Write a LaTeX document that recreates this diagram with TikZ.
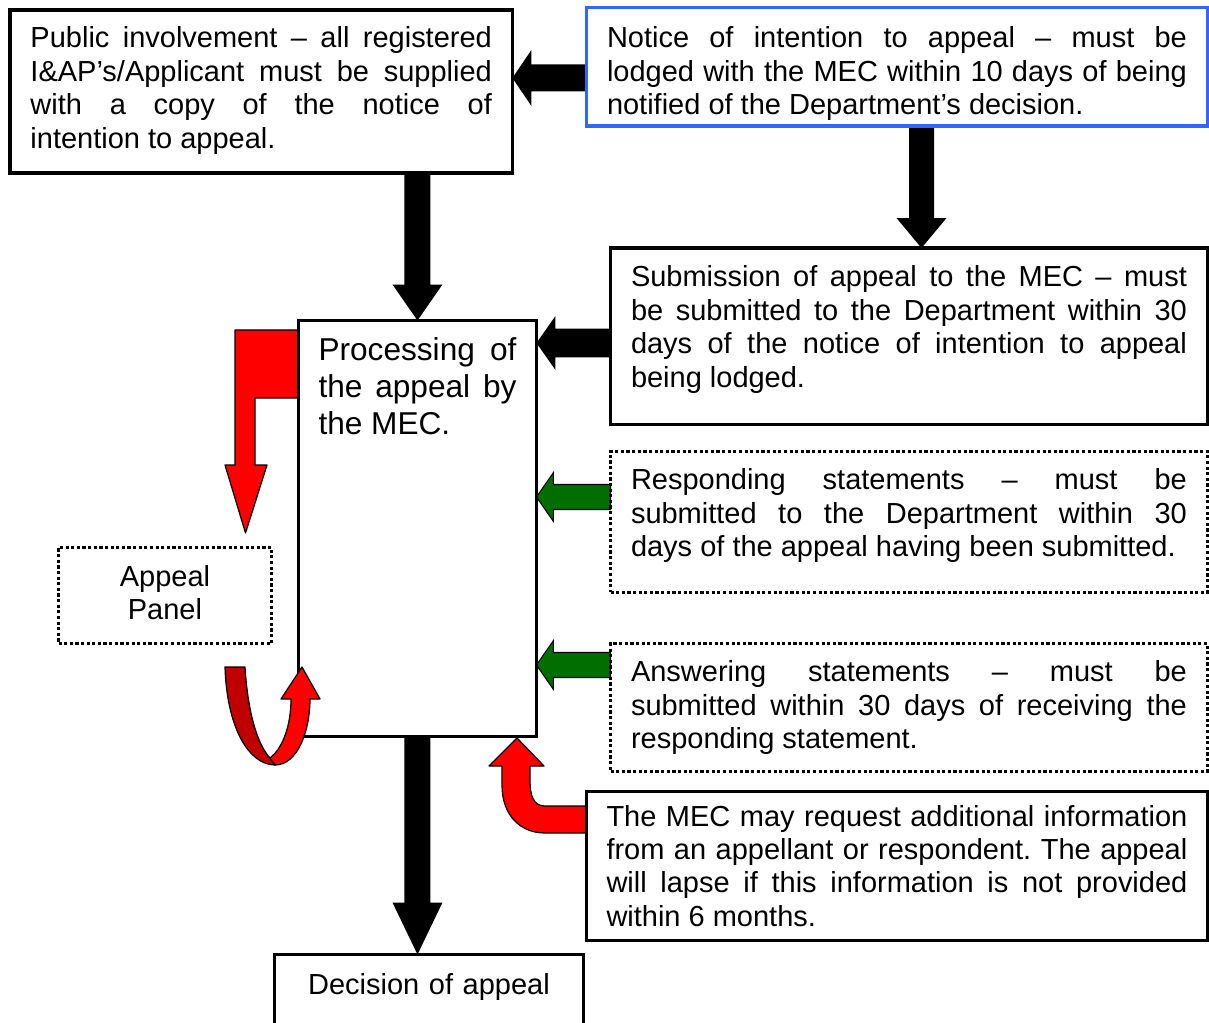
\documentclass[tikz,border=0pt]{standalone}
\usepackage{fontspec}
\setmainfont{Liberation Sans}
\usetikzlibrary{backgrounds}
\frenchspacing

\definecolor{noticeblue}{RGB}{51,102,255}
\definecolor{stmtgreen}{RGB}{0,110,0}
\definecolor{panelred}{RGB}{255,0,0}
\definecolor{backred}{RGB}{192,0,0}

\newcommand\bodysize{\fontsize{16.5}{19}\selectfont\hyphenpenalty=10000\tolerance=10000}
\newcommand\procsize{\fontsize{18}{21}\selectfont\hyphenpenalty=10000\tolerance=10000}

\tikzset{
  box/.style={draw, line width=1.8pt, outer sep=0pt, inner xsep=0.41cm, inner ysep=0pt,
    anchor=north west, align=justify, font=\bodysize},
  dotbox/.style={box, dash pattern=on 1.8pt off 1.4pt},
  shaftw/.store in=\shaftw, headw/.store in=\headw, tipl/.store in=\tipl,
  shaftw=0.26cm, headw=0.5cm, tipl=0.5cm,
  % block arrow pointing left
  larrow/.style={to path={([yshift=\shaftw]\tikztostart) -- ([xshift=\tipl,yshift=\shaftw]\tikztotarget)
    -- ([xshift=\tipl,yshift=\headw]\tikztotarget) -- (\tikztotarget)
    -- ([xshift=\tipl,yshift=-\headw]\tikztotarget) -- ([xshift=\tipl,yshift=-\shaftw]\tikztotarget)
    -- ([yshift=-\shaftw]\tikztostart) -- cycle}},
  % block arrow pointing down
  darrow/.style={to path={([xshift=-\shaftw]\tikztostart) -- ([xshift=-\shaftw,yshift=\tipl]\tikztotarget)
    -- ([xshift=-\headw,yshift=\tipl]\tikztotarget) -- (\tikztotarget)
    -- ([xshift=\headw,yshift=\tipl]\tikztotarget) -- ([xshift=\shaftw,yshift=\tipl]\tikztotarget)
    -- ([xshift=\shaftw]\tikztostart) -- cycle}},
  blackarrow/.style={fill=black, draw=none},
  greenarrow/.style={fill=stmtgreen, draw=black, line width=0.6pt},
  redarrow/.style={fill=panelred, draw=black, line width=0.7pt, line join=round}
}

\begin{document}
\begin{tikzpicture}[x=0.02cm, y=-0.02cm]
\useasboundingbox (0,0) rectangle (1209,1023);

% boxes
\node[box, text width=9.23cm, text height=0.76cm, text depth=2.5cm] (public) at (10,10)
  {Public involvement -- all registered\linebreak I\&AP’s/Applicant must be supplied\linebreak with a copy of the notice of\linebreak intention to appeal.};
\node[box, draw=noticeblue, text width=11.6cm, text height=0.81cm, text depth=1.56cm] (notice) at (586.5,7.5)
  {Notice of intention to appeal -- must be\linebreak lodged with the MEC within 10 days of being\linebreak notified of the Department’s decision.};
\node[box, text width=11.12cm, text height=0.78cm, text depth=2.75cm] (submit) at (610.5,248)
  {Submission of appeal to the MEC -- must\linebreak be submitted to the Department within 30\linebreak days of the notice of intention to appeal\linebreak being lodged.};
\node[box, font=\procsize, inner xsep=0.4cm, text width=3.96cm, text height=0.81cm, text depth=7.51cm] (proc) at (298.5,320.5)
  {Processing of\linebreak the appeal by\linebreak the MEC.};
\node[dotbox, text width=11.12cm, text height=0.77cm, text depth=2.05cm] (respond) at (610.5,451.5)
  {Responding statements -- must be\linebreak submitted to the Department within 30\linebreak days of the appeal having been submitted.};
\node[dotbox, text width=11.12cm, text height=0.77cm, text depth=1.79cm] (answer) at (610.5,643.5)
  {Answering statements -- must be\linebreak submitted within 30 days of receiving the\linebreak responding statement.};
\node[box, inner xsep=0.4cm, text width=11.62cm, text height=0.69cm, text depth=2.29cm] (request) at (586.5,791.5)
  {The MEC may request additional information\linebreak from an appellant or respondent. The appeal\linebreak will lapse if this information is not provided\linebreak within 6 months.};
\node[dotbox, align=center, text width=3.44cm, text height=0.78cm, text depth=1.14cm] (panel) at (58.5,547.5)
  {Appeal\\Panel};
\node[box, align=center, text width=5.36cm, text height=0.79cm, text depth=1.32cm] (decision) at (274.5,954.5)
  {Decision of appeal};

% arrow ends
\coordinate (n1) at (notice.west |- 0,78);
\coordinate (p1) at (public.east |- 0,78);
\coordinate (p2) at (public.south -| proc.north);
\coordinate (n2) at (notice.south -| 921.5,0);
\coordinate (s1) at (submit.north -| 921.5,0);
\coordinate (s2) at (submit.west |- 0,343);
\coordinate (c1) at (proc.east |- 0,343);
\coordinate (r1) at (respond.west |- 0,497);
\coordinate (c2) at (proc.east |- 0,497);
\coordinate (a1) at (answer.west |- 0,665);
\coordinate (c3) at (proc.east |- 0,665);
\coordinate (d1) at (decision.north -| proc.south);

\begin{scope}[on background layer]
\draw[blackarrow, larrow, shaftw=0.27cm, headw=0.56cm, tipl=0.38cm] (n1) to (p1);
\draw[blackarrow, darrow, tipl=0.72cm] (p2) to (proc.north);
\draw[blackarrow, darrow, shaftw=0.25cm, tipl=0.6cm] (n2) to (s1);
\draw[blackarrow, larrow, shaftw=0.29cm, headw=0.54cm, tipl=0.38cm] (s2) to (c1);
\draw[greenarrow, larrow, shaftw=0.25cm, headw=0.49cm, tipl=0.34cm] (r1) to (c2);
\draw[greenarrow, larrow, shaftw=0.25cm, headw=0.49cm, tipl=0.34cm] (a1) to (c3);
\draw[blackarrow, darrow, tipl=1.04cm] (proc.south) to (d1);
% to the appeal panel
\draw[redarrow] (proc.west |- 0,330) -- (235,330) -- (235,465) -- (225,465) -- (245.5,533)
  -- (267,465) -- (255,465) -- (255,398) -- (proc.west |- 0,398) -- cycle;
% further information
\draw[redarrow] (request.west |- 0,806) -- (545,806) .. controls (533,806) and (530,795) .. (530,780)
  -- (530,766) -- (544,766) -- (517,738) -- (489,766) -- (502,766) -- (502,785)
  .. controls (502,815) and (520,833) .. (545,833) -- (request.west |- 0,833) -- cycle;
\end{scope}

% back from the panel
\draw[redarrow, fill=backred] (225,667) -- (245,667) .. controls (248,715) and (258,745) .. (270,758)
  -- (275,765) .. controls (250,765) and (227,730) .. (225,667) -- cycle;
\draw[redarrow] (270,758) .. controls (283,748) and (291,725) .. (291,699) -- (281,699) -- (302,667)
  -- (320,699) -- (310,699) .. controls (310,730) and (298,765) .. (275,765) -- cycle;
\end{tikzpicture}
\end{document}
